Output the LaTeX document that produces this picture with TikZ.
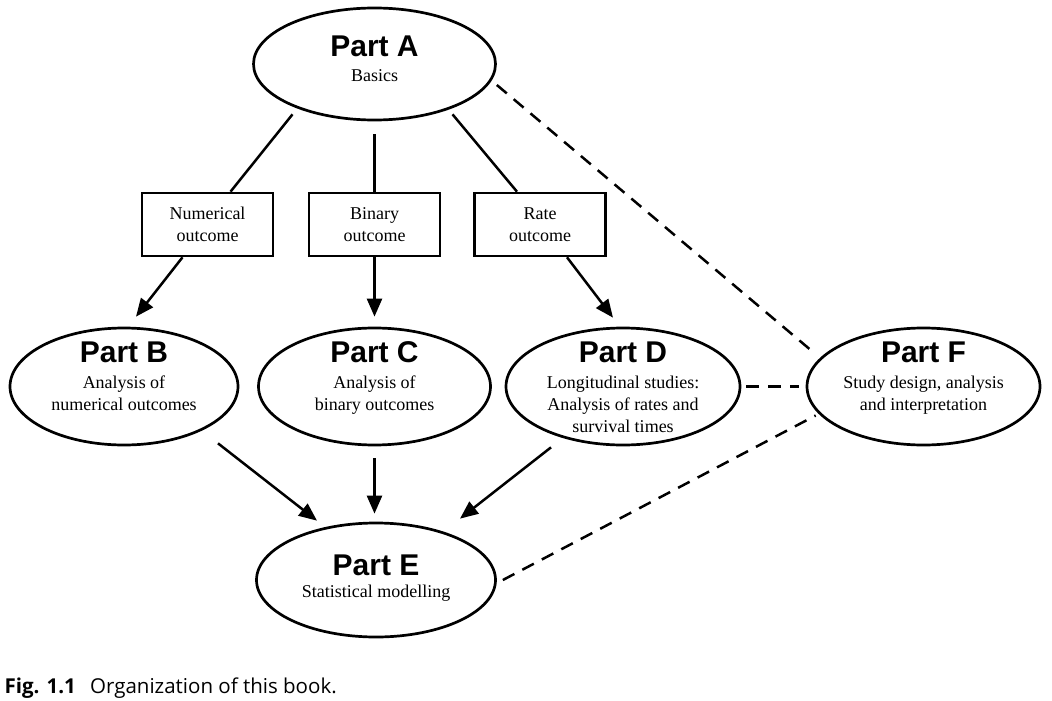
\documentclass[tikz,border=0pt]{standalone}
\usepackage{fontspec}
\setmainfont{Liberation Serif}
\setsansfont{Liberation Sans}
\newfontfamily\capfont{Open Sans}
\usetikzlibrary{
    shapes.geometric,
    arrows.meta,
    positioning
}
\tikzset{prt/.style={ellipse, draw=black, line width=2.7pt, inner xsep=-10pt, inner ysep=-8pt}}
\tikzset{otc/.style={rectangle, draw=black, line width=2.6pt, minimum width=131pt, minimum height=63pt, align=center, inner sep=0pt, font=\fontsize{18}{22}\selectfont}}
\tikzset{lnk/.style={line width=2.5pt}}
\tikzset{arr/.style={line width=2.5pt, -{Triangle[length=18pt, width=15pt]}}}
\tikzset{dsh/.style={line width=2.5pt, dash pattern=on 13pt off 9pt}}
% title and text of one part, top aligned in a box of fixed height
\newcommand{\partbox}[4]{\parbox[c][#1][t]{180pt}{\centering\fontsize{18}{22}\selectfont
    {\sffamily\bfseries\fontsize{30}{32}\selectfont #3}\\[#2]#4}}

\begin{document}
\begin{tikzpicture}[x=1pt, y=-1pt]
                        \useasboundingbox (0, 0) rectangle (1052, 701);

                        \node[prt, minimum width=242pt, minimum height=112pt] (A) at (374.5, 64) {\partbox{57pt}{3pt}{Part A}{Basics}};

                        \node[otc] (num) at (207.5, 224.5) {Numerical\\outcome};
                        \node[otc] (bin) at (374.5, 224.5) {Binary\\outcome};
                        \node[otc] (rate) at (540, 224.5) {Rate\\outcome};

                        \node[prt, minimum width=228pt, minimum height=117pt] (B) at (124, 386.5) {\partbox{90pt}{4pt}{Part B}{Analysis of\\numerical outcomes}};
                        \node[prt, minimum width=232pt, minimum height=117pt] (C) at (374.5, 386.5) {\partbox{90pt}{4pt}{Part C}{Analysis of\\binary outcomes}};
                        \node[prt, minimum width=234pt, minimum height=117pt] (D) at (623, 386.5) {\partbox{90pt}{4pt}{Part D}{Longitudinal studies:\\Analysis of rates and\\survival times}};
                        \node[prt, minimum width=233pt, minimum height=117pt] (F) at (923.5, 386.5) {\partbox{90pt}{4pt}{Part F}{Study design, analysis\\and interpretation}};
                        \node[prt, minimum width=239pt, minimum height=114pt] (E) at (376, 580) {\partbox{51pt}{0pt}{Part E}{Statistical modelling}};

                        \node[anchor=base west, font=\capfont\fontsize{20.5}{24}\selectfont] (cap) at (1, 693) {\textbf{Fig. 1.1}\hspace{0.7em}Organization of this book.};

                        \draw[lnk] ([xshift=-82pt, yshift=7pt]A.south) -- ([xshift=23pt]num.north);
                        \draw[lnk, shorten <=13pt] (A) -- (bin);
                        \draw[lnk] ([xshift=78pt, yshift=7pt]A.south) -- ([xshift=-23pt]rate.north);

                        \draw[arr] ([xshift=-25pt]num.south) -- ([xshift=12pt, yshift=10pt]B.north);
                        \draw[arr, shorten >=10pt] (bin) -- (C);
                        \draw[arr] ([xshift=27pt]rate.south) -- ([xshift=-10pt, yshift=9pt]D.north);

                        \draw[arr] ([xshift=94pt, yshift=3pt]B.south) -- ([xshift=-59pt, yshift=1pt]E.north);
                        \draw[arr, shorten <=12pt, shorten >=8pt] (C.south) -- (C.south |- E.north);
                        \draw[arr] ([xshift=-72pt, yshift=-1pt]D.south) -- ([xshift=84pt, yshift=3pt]E.north);

                        \draw[dsh] ([yshift=-21pt]A.east) -- ([xshift=8pt, yshift=34pt]F.west);
                        \draw[dsh, shorten <=5pt, shorten >=7pt] (D) -- (F);
                        \draw[dsh] ([xshift=6pt]E.east) -- ([xshift=10pt, yshift=-29pt]F.west);
                    \end{tikzpicture}
\end{document}
